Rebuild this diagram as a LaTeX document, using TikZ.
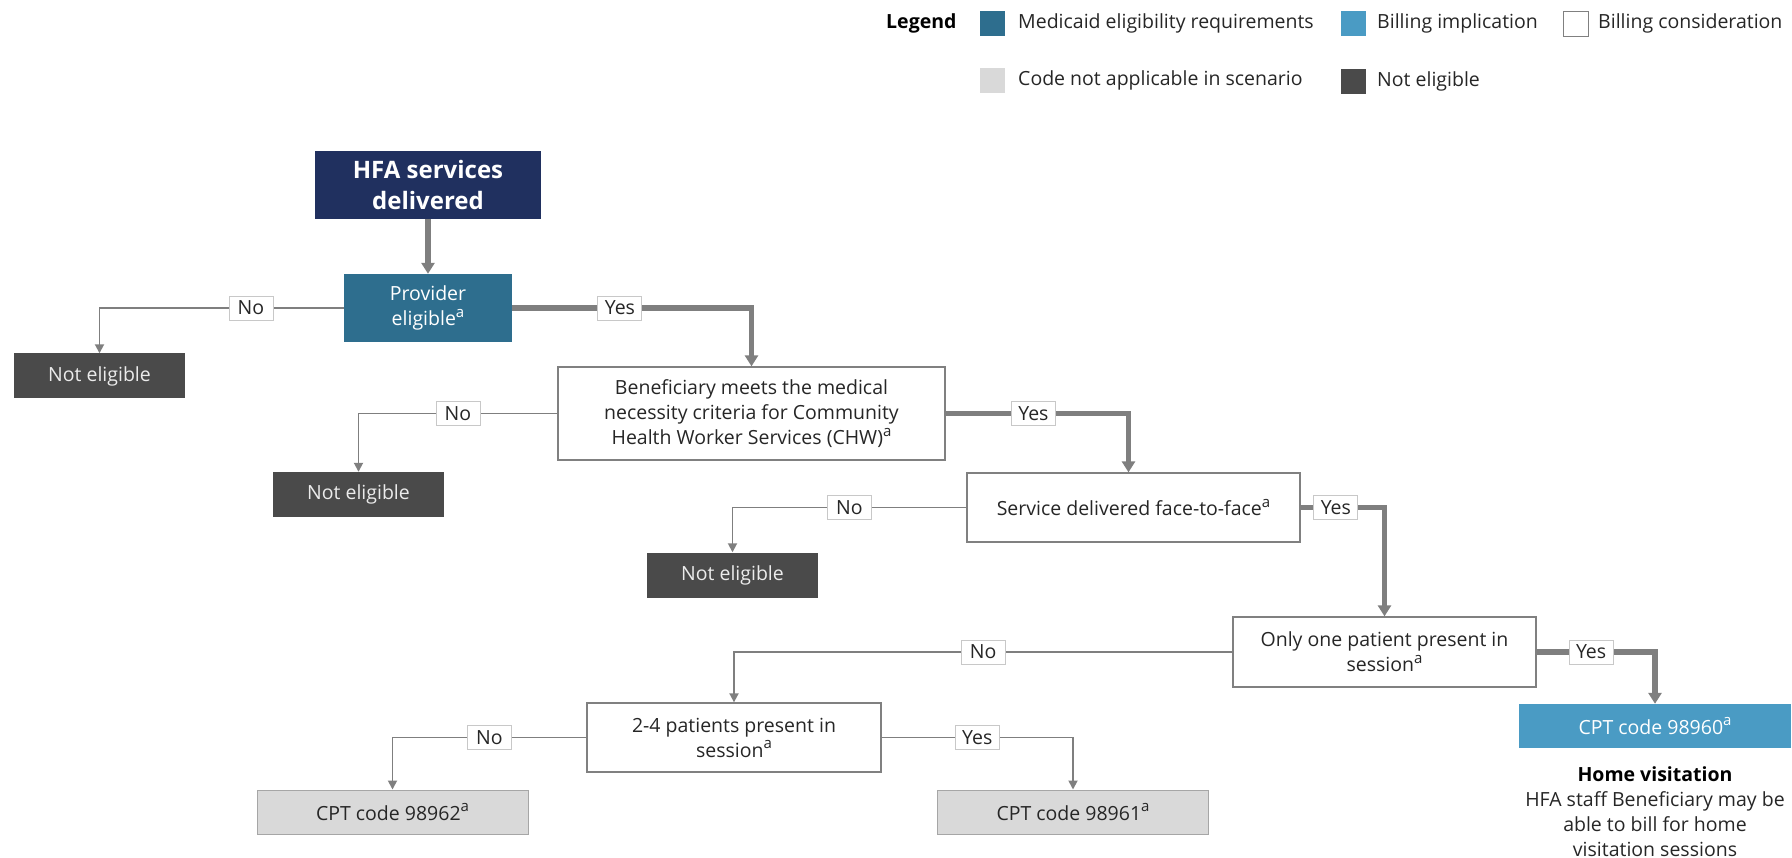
\documentclass[tikz,border=0pt]{standalone}
\usepackage{fontspec}
\setmainfont{Open Sans}
\usetikzlibrary{arrows.meta}
\definecolor{cNavy}{HTML}{20305F}
\definecolor{cReq}{HTML}{2E6E8E}
\definecolor{cBill}{HTML}{4A9BC4}
\definecolor{cNE}{HTML}{4A4A4A}
\definecolor{cNA}{HTML}{D9D9D9}
\definecolor{cNABorder}{HTML}{A6A6A6}
\definecolor{cBorder}{HTML}{808080}
\definecolor{cLine}{HTML}{7F7F7F}
\definecolor{cLbl}{HTML}{C8C8C8}
\definecolor{cText}{HTML}{262626}
\newcommand\fsz{\fontsize{19.5}{25}\selectfont}
\newcommand\supa{\raisebox{0.42em}{\fontsize{15}{15}\selectfont a}}
\begin{document}
\begin{tikzpicture}[x=1pt,y=-1pt,
  every node/.style={inner sep=0pt, font=\fsz},
  conbox/.style={draw=cBorder, line width=1.3pt, fill=white, text=cText, align=center},
  reqbox/.style={fill=cReq, text=white, align=center},
  nebox/.style={fill=cNE, text=white!92!black, align=center, minimum width=171pt, minimum height=45pt},
  nabox/.style={fill=cNA, draw=cNABorder, line width=1pt, text=cText, align=center, minimum width=271pt, minimum height=44pt},
  billbox/.style={fill=cBill, text=white, align=center},
  lbl/.style={fill=white, draw=cLbl, line width=0.8pt, minimum width=44pt, minimum height=24pt, text=cText},
  thk/.style={draw=cLine, line width=5.5pt, -{Triangle[width=13pt,length=11pt]}},
  thn/.style={draw=cLine, line width=1.8pt, -{Triangle[width=9pt,length=9pt]}},
  lgsq/.style={minimum width=25pt, minimum height=25pt},
  lgtxt/.style={anchor=base west, text=cText}
]
\useasboundingbox (0,0) rectangle (1792,858);

% ---------- legend ----------
\node[lgtxt, font=\fsz\bfseries, text=black] (lgT) at (886,29) {Legend};
\node[lgsq, fill=cReq] (lgA) at (992,23.5) {};
\node[lgtxt] (lgAt) at (1018,29) {Medicaid eligibility requirements};
\node[lgsq, fill=cBill] (lgB) at (1353.5,23.5) {};
\node[lgtxt] (lgBt) at (1377,29) {Billing implication};
\node[lgsq, fill=white, draw=cBorder, line width=0.8pt] (lgC) at (1575.5,23.5) {};
\node[lgtxt] (lgCt) at (1598,29) {Billing consideration};
\node[lgsq, fill=cNA] (lgD) at (992,80.5) {};
\node[lgtxt] (lgDt) at (1018,86) {Code not applicable in scenario};
\node[lgsq, fill=cNE] (lgE) at (1353.5,81.5) {};
\node[lgtxt] (lgEt) at (1377,87) {Not eligible};

% ---------- flowchart nodes ----------
\node[fill=cNavy, text=white, align=center, minimum width=226pt, minimum height=68pt,
      font=\fontsize{24}{31}\selectfont\bfseries] (hfa) at (428,185) {HFA services\\delivered};
\node[reqbox, minimum width=168pt, minimum height=68pt] (prov) at (428,308) {Provider\\eligible\supa};
\node[nebox] (ne1) at (99.5,376) {Not eligible};
\node[conbox, minimum width=387pt, minimum height=93pt] (ben) at (751.5,413.5)
  {Beneficiary meets the medical\\necessity criteria for Community\\Health Worker Services (CHW)\supa};
\node[nebox] (ne2) at (358.5,494.5) {Not eligible};
\node[conbox, minimum width=333pt, minimum height=69pt] (serv) at (1133.5,507.5) {Service delivered face-to-face\supa};
\node[nebox] (ne3) at (732.5,575) {Not eligible};
\node[conbox, minimum width=303pt, minimum height=70pt] (only) at (1384.5,652)
  {Only one patient present in\\session\supa};
\node[conbox, minimum width=294pt, minimum height=69pt] (two) at (734,737.5)
  {2-4 patients present in\\session\supa};
\node[billbox, minimum width=272pt, minimum height=44pt] (c60) at (1655,726) {CPT code 98960\supa};
\node[nabox] (c62) at (392.5,812) {CPT code 98962\supa};
\node[nabox] (c61) at (1073,812) {CPT code 98961\supa};
\node[align=center, text=cText] (home) at (1655,812)
  {{\bfseries\color{black}Home visitation}\\HFA staff Beneficiary may be\\able to bill for home\\visitation sessions};

% ---------- connectors ----------
\draw[thk] (hfa.south) -- (prov.north);
\draw[thn] (prov.west) -| node[lbl, pos=0.19] (l1) {No} (ne1.north);
\draw[thk] (prov.east) -| node[lbl, pos=0.225] (l2) {Yes} (ben.north);
\draw[thn] (ben.west) -| node[lbl, pos=0.25] (l3) {No} (ne2.north);
\draw[thk] (ben.east) -| node[lbl, pos=0.24] (l4) {Yes} ([xshift=-5pt]serv.north);
\draw[thn] (serv.west) -| node[lbl, pos=0.25] (l5) {No} (ne3.north);
\draw[thk] (serv.east) -| node[lbl, pos=0.21] (l6) {Yes} (only.north);
\draw[thn] (only.west) -| node[lbl, pos=0.25] (l7) {No} (two.north);
\draw[thk] (only.east) -| node[lbl, pos=0.23] (l8) {Yes} (c60.north);
\draw[thn] (two.west) -| node[lbl, pos=0.25] (l9) {No} (c62.north);
\draw[thn] (two.east) -| node[lbl, pos=0.25] (l10) {Yes} (c61.north);
\end{tikzpicture}
\end{document}
